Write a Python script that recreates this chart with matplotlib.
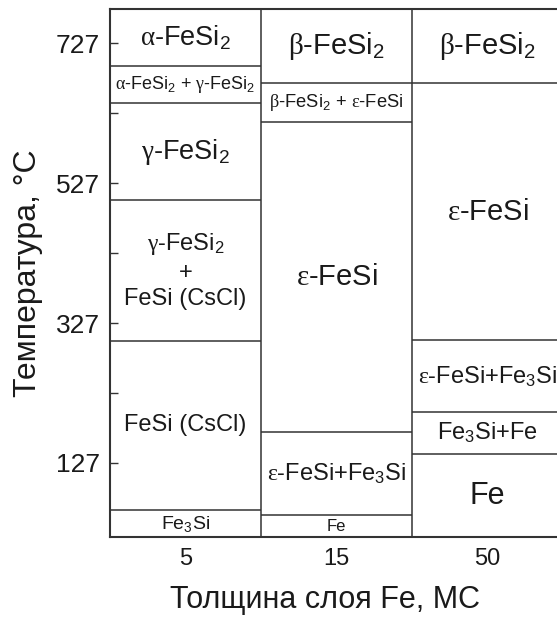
import matplotlib
matplotlib.use("Agg")
import matplotlib.pyplot as plt

plt.rcParams['font.family'] = ['Liberation Sans', 'DejaVu Sans']
plt.rcParams['mathtext.fontset'] = 'custom'
plt.rcParams['mathtext.rm'] = 'Liberation Sans'
# greek letters of the original look like a serif (Symbol) face
plt.rcParams['mathtext.it'] = 'Liberation Serif'
plt.rcParams['mathtext.default'] = 'regular'

# thickness of Fe layer, ML
thickness = ['5', '15', '50']

A = r'$\mathit{\alpha}$'
B = r'$\mathit{\beta}$'
G = r'$\mathit{\gamma}$'
E = r'$\mathit{\varepsilon}$'

# phase boundaries (deg C) and phases, bottom to top, for every column
bounds_5 = [20, 60, 301, 503, 641, 694, 777]
phases_5 = ['Fe$_3$Si', 'FeSi (CsCl)', G + '-FeSi$_2$\n+\nFeSi (CsCl)',
            G + '-FeSi$_2$', A + '-FeSi$_2$ + ' + G + '-FeSi$_2$',
            A + '-FeSi$_2$']

bounds_15 = [20, 53, 171, 614, 670, 777]
phases_15 = ['Fe', E + '-FeSi+Fe$_3$Si', E + '-FeSi',
             B + '-FeSi$_2$ + ' + E + '-FeSi', B + '-FeSi$_2$']

bounds_50 = [20, 140, 200, 302, 670, 777]
phases_50 = ['Fe', 'Fe$_3$Si+Fe', E + '-FeSi+Fe$_3$Si', E + '-FeSi',
             B + '-FeSi$_2$']

major_t = [127, 327, 527, 727]
minor_t = [227, 427, 627]

# label sizes (pt), same order as phases
sizes_5 = [14, 17, 17, 19.5, 13, 19.5]
sizes_15 = [12, 17, 21, 13.2, 21]
sizes_50 = [22, 17, 17, 21, 21]

columns = [(bounds_5, phases_5, sizes_5),
           (bounds_15, phases_15, sizes_15),
           (bounds_50, phases_50, sizes_50)]

W, H = 557, 617
fig = plt.figure(figsize=(W / 100, H / 100), dpi=100)
# right border of the plot lies just outside the picture, as in the original
ax = fig.add_axes([110 / W, (H - 537) / H, 453 / W, 528 / H])

lc = '#333333'
tc = '#1a1a1a'

ax.set_xlim(-0.5, 2.5)
ax.set_ylim(21, 776)

for i, (b, ph, sz) in enumerate(columns):
    ax.hlines(b[1:-1], i - 0.5, i + 0.5, color=lc, lw=1.1)
    for j in range(len(ph)):
        yc = (b[j] + b[j + 1]) / 2
        ax.text(i, yc, ph[j], ha='center', va='center', fontsize=sz[j],
                color=tc, linespacing=1.25)
ax.vlines([0.5, 1.5], 21, 776, color=lc, lw=1.1)

for s in ax.spines.values():
    s.set_color(lc)
    s.set_linewidth(1.5)

ax.set_xticks(range(len(thickness)))
ax.set_xticklabels(thickness)
ax.tick_params(axis='x', length=0, pad=8, labelsize=17, labelcolor=tc)

ax.set_yticks(major_t)
ax.set_yticks(minor_t, minor=True)
ax.tick_params(axis='y', which='both', direction='in', length=6,
               width=1, color=lc, pad=7, labelsize=19, labelcolor=tc)

ax.set_ylabel('Температура, °C', fontsize=23, color=tc)
ax.yaxis.set_label_coords(-0.148, 0.5)
ax.set_xlabel('Толщина слоя Fe, МС', fontsize=22, color=tc)
ax.xaxis.set_label_coords(0.475, -0.09)

fig.savefig('out.png', dpi=100)
